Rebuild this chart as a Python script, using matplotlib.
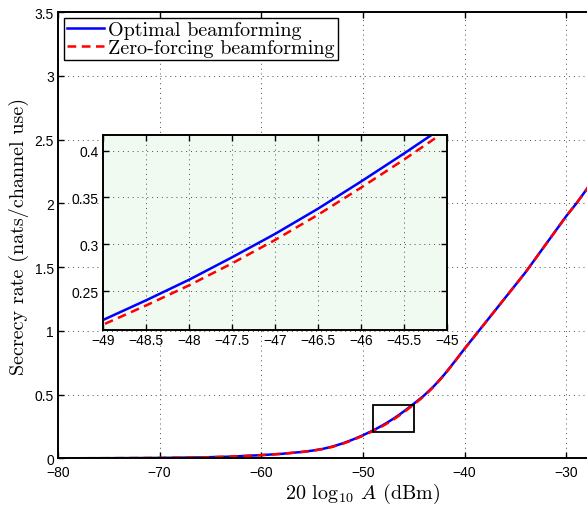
import matplotlib
matplotlib.use("Agg")
import matplotlib.pyplot as plt
from matplotlib.ticker import FuncFormatter

# ----- данные -----
x_dbm = [-80, -75, -70, -66, -63, -60, -58, -56, -55, -54, -53, -52, -51, -50, -49,
         -48.5, -48, -47.5, -47, -46.5, -46, -45.5, -45, -44, -43, -42, -41, -40, -39,
         -38, -37, -36, -35, -34, -33, -32, -31, -30, -29, -28, -27, -26]
rate_opt = [0.0, 0.001, 0.003, 0.007, 0.013, 0.025, 0.035, 0.05, 0.06, 0.073, 0.092,
            0.117, 0.147, 0.181, 0.219, 0.240, 0.262, 0.286, 0.311, 0.338, 0.367, 0.397,
            0.428, 0.492, 0.568, 0.657, 0.757, 0.86, 0.96, 1.06, 1.16, 1.26, 1.36, 1.46,
            1.57, 1.68, 1.79, 1.90, 2.00, 2.11, 2.22, 2.33]
rate_zf = [0.0, 0.001, 0.003, 0.007, 0.013, 0.025, 0.035, 0.05, 0.059, 0.072, 0.09,
           0.114, 0.143, 0.177, 0.214, 0.2345, 0.256, 0.2795, 0.3045, 0.3315, 0.3605, 0.3905,
           0.422, 0.487, 0.564, 0.654, 0.755, 0.86, 0.96, 1.06, 1.16, 1.26, 1.36, 1.46,
           1.57, 1.68, 1.79, 1.90, 2.00, 2.11, 2.22, 2.33]

labels = ["Optimal beamforming", "Zero-forcing beamforming"]
x_ticks = [-80, -70, -60, -50, -40, -30]
y_ticks = [0, 0.5, 1, 1.5, 2, 2.5, 3, 3.5]
inset_x_ticks = [-49, -48.5, -48, -47.5, -47, -46.5, -46, -45.5, -45]
inset_y_ticks = [0.25, 0.3, 0.35, 0.4]

# окно увеличения
zoom_x = (-49, -45)
zoom_y = (0.21, 0.42)

plt.rcParams["mathtext.fontset"] = "cm"
plt.rcParams["font.family"] = ["Liberation Sans", "DejaVu Sans"]
plt.rcParams["font.size"] = 10
plt.rcParams["axes.unicode_minus"] = True

fmt = FuncFormatter(lambda v, p: ("%g" % v).replace("-", "\u2212"))
grid_ls = (0, (1, 4))


def style_axes(ax, xpad, ypad):
    ax.tick_params(direction="in", top=True, right=True, length=4, width=1.0)
    ax.tick_params(axis="x", pad=xpad)
    ax.tick_params(axis="y", pad=ypad)
    for s in ax.spines.values():
        s.set_linewidth(1.4)
    ax.grid(True, linestyle=grid_ls, color="0.3", linewidth=0.7)
    ax.xaxis.set_major_formatter(fmt)
    ax.yaxis.set_major_formatter(fmt)


fig = plt.figure(figsize=(5.87, 5.06), dpi=100)

# основной график (правый край выходит за кадр)
ax = fig.add_axes([58 / 587, 46.7 / 506, 610 / 587, 446.3 / 506])
l1, = ax.plot(x_dbm, rate_opt, color="blue", lw=1.8)
l2, = ax.plot(x_dbm, rate_zf, color="red", lw=1.8, linestyle="--", dashes=(3.5, 2.2))
ax.set_xlim(-80, -20)
ax.set_ylim(0, 3.5)
ax.set_xticks(x_ticks)
ax.set_yticks(y_ticks)
style_axes(ax, 5, 3)
ax.add_patch(plt.Rectangle((zoom_x[0], zoom_y[0]), zoom_x[1] - zoom_x[0],
                           zoom_y[1] - zoom_y[0], fill=False, color="black", lw=1.3, zorder=5))

ax.set_xlabel(r"20 log$_{10}$ $A$ (dBm)", family="cmr10", fontsize=14.5, labelpad=1)
ax.set_ylabel("Secrecy rate (nats/channel use)", family="cmr10", fontsize=14.5, labelpad=4)

leg = ax.legend([l1, l2], labels, loc="upper left", prop={"family": "cmr10", "size": 14.5},
                handlelength=1.85, handletextpad=0.2, borderpad=0.15, labelspacing=0.0,
                borderaxespad=0.3, fancybox=False, framealpha=1)
leg.get_frame().set_edgecolor("black")
leg.get_frame().set_linewidth(1.0)

# вставка
ins = fig.add_axes([103 / 587, 175 / 506, 344 / 587, 195 / 506])
ins.set_facecolor("#f1faf1")
ins.plot(x_dbm, rate_opt, color="blue", lw=1.8)
ins.plot(x_dbm, rate_zf, color="red", lw=1.8, linestyle="--", dashes=(3.5, 2.2))
ins.set_xlim(-49, -45)
ins.set_ylim(0.2083, 0.4168)
ins.set_xticks(inset_x_ticks)
ins.set_yticks(inset_y_ticks)
style_axes(ins, 2, 3)

fig.savefig("out.png", dpi=100)
